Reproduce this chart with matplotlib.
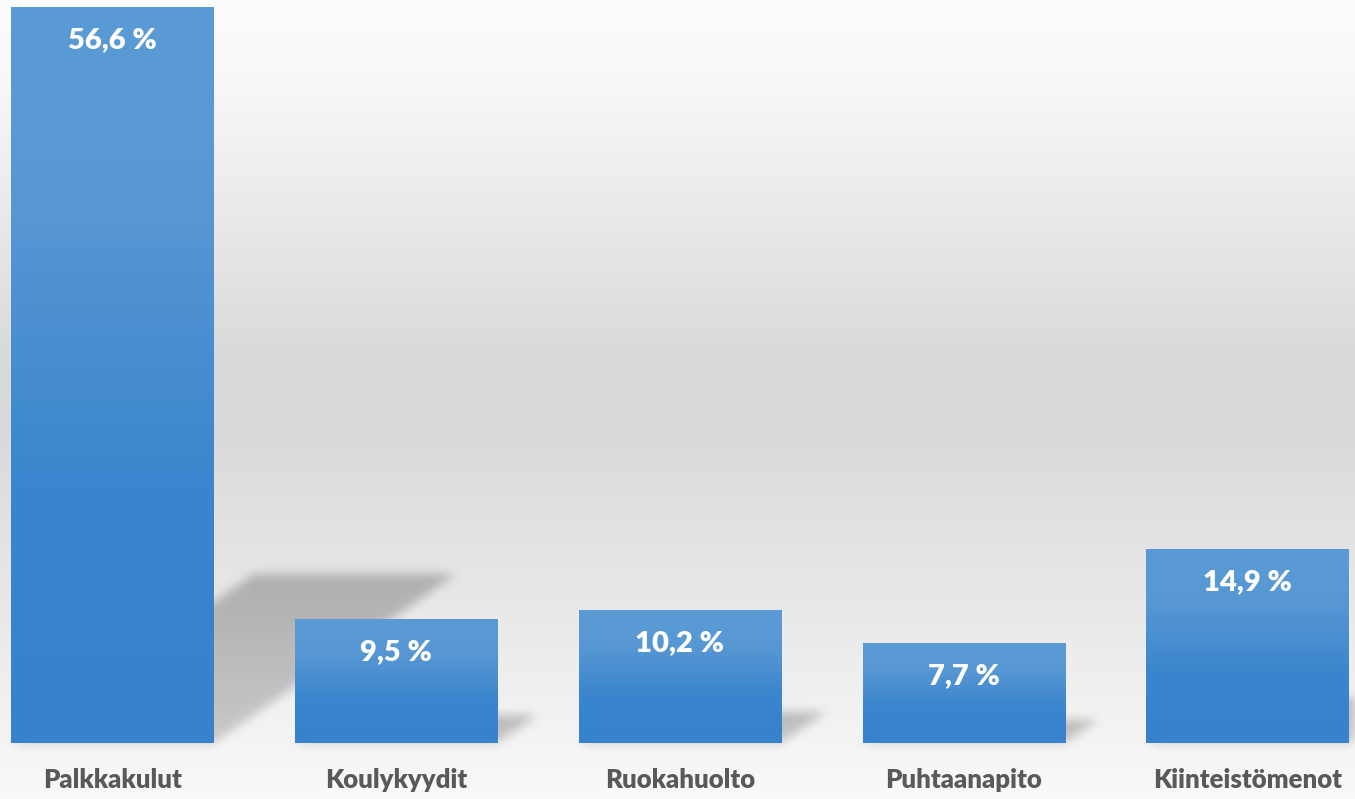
import numpy as np
import matplotlib
matplotlib.use("Agg")
import matplotlib.pyplot as plt
from matplotlib.path import Path
from matplotlib.colors import LinearSegmentedColormap

categories = ["Palkkakulut", "Koulykyydit", "Ruokahuolto", "Puhtaanapito", "Kiinteistömenot"]
values = [56.6, 9.5, 10.2, 7.7, 14.9]
value_labels = ["56,6 %", "9,5 %", "10,2 %", "7,7 %", "14,9 %"]

W, H, DPI = 1355, 799, 100
fig = plt.figure(figsize=(W / DPI, H / DPI), dpi=DPI)
ax = fig.add_axes([0, 0, 1, 1])

# axis limits (data units) chosen so that the layout matches
xmin, xmax = -0.3965, 4.379
ymin, ymax = -4.31, 57.15
ax.set_xlim(xmin, xmax)
ax.set_ylim(ymin, ymax)
ax.axis("off")

# background vertical gradient
stops = [(0.0, "#f9f9f9"), (0.45, "#dadada"), (0.55, "#d9d9d9"), (0.75, "#ebebeb"),
         (0.93, "#fafafa"), (1.0, "#fcfcfc")]
bg_cmap = LinearSegmentedColormap.from_list("bg", stops)
grad = np.linspace(0, 1, 400).reshape(-1, 1)
ax.imshow(grad, cmap=bg_cmap, extent=[xmin, xmax, ymax, ymin], aspect="auto",
          zorder=0, interpolation="bilinear")
ax.set_ylim(ymin, ymax)

# perspective shadows (rasterised + blurred)
px_per_x = W / (xmax - xmin)
px_per_y = H / (ymax - ymin)
bar_w = 0.712
xs = np.arange(len(categories))
gx = xmin + (np.arange(W) + 0.5) / px_per_x
gy = ymax - (np.arange(H) + 0.5) / px_per_y
GX, GY = np.meshgrid(gx, gy)
pts = np.column_stack([GX.ravel(), GY.ravel()])
mask = np.zeros(W * H)
for x, v in zip(xs, values):
    dy = 0.23 * v
    dx = 0.33 * v * px_per_y / px_per_x
    x0, x1 = x - bar_w / 2, x + bar_w / 2
    poly = Path([(x0, 0), (x1, 0), (x1 + dx, dy), (x0 + dx, dy), (x0, 0)])
    inside = poly.contains_points(pts)
    frac = np.clip(GY.ravel() / max(dy, 1e-6), 0, 1)
    mask = np.maximum(mask, inside * (0.75 + 0.25 * frac))
mask = mask.reshape(H, W)

def blur(a, sigma):
    r = int(3 * sigma)
    k = np.exp(-0.5 * (np.arange(-r, r + 1) / sigma) ** 2)
    k /= k.sum()
    a = np.apply_along_axis(lambda m: np.convolve(m, k, mode="same"), 0, a)
    a = np.apply_along_axis(lambda m: np.convolve(m, k, mode="same"), 1, a)
    return a

mask = blur(mask, 5)
rgba = np.zeros((H, W, 4))
rgba[..., 3] = mask * 0.24
ax.imshow(rgba, extent=[xmin, xmax, ymin, ymax], aspect="auto", zorder=1,
          interpolation="bilinear")
ax.set_xlim(xmin, xmax)
ax.set_ylim(ymin, ymax)

# bars with vertical gradient
bar_cmap = LinearSegmentedColormap.from_list(
    "bar", [(0.0, "#3782cb"), (0.35, "#3a85cd"), (0.72, "#5797d3"), (1.0, "#5b9bd5")])
bars = ax.bar(xs, values, width=bar_w, color="#4a90d0", zorder=2, linewidth=0)
for b in bars:
    bx, by = b.get_x(), b.get_y()
    bw, bh = b.get_width(), b.get_height()
    im = ax.imshow(np.linspace(0, 1, 256).reshape(-1, 1), cmap=bar_cmap,
                   extent=[bx, bx + bw, by, by + bh], origin="lower",
                   aspect="auto", zorder=3, interpolation="bilinear")
    im.set_clip_path(b)
ax.set_xlim(xmin, xmax)
ax.set_ylim(ymin, ymax)

# labels
off_val = 33 / px_per_y
for x, v, lab in zip(xs, values, value_labels):
    ax.text(x, v - off_val, lab, ha="center", va="center", color="white",
            fontsize=21, fontweight="heavy", family=["Lato", "DejaVu Sans"], zorder=4)
cat_y = -37 / px_per_y
for x, c in zip(xs, categories):
    ax.text(x, cat_y, c, ha="center", va="center", color="#595959",
            fontsize=18.5, fontweight="heavy", family=["Lato", "DejaVu Sans"], zorder=4)

fig.savefig("out.png", dpi=DPI)
